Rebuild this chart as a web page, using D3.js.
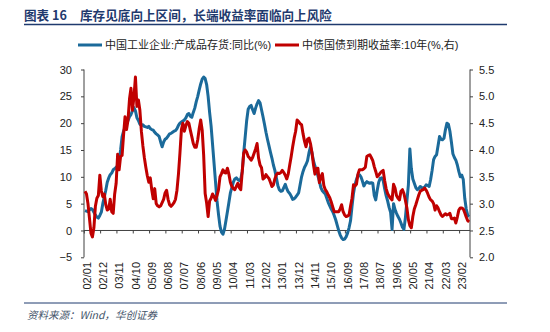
<!DOCTYPE html>
<html lang="zh">
<head>
<meta charset="utf-8">
<title>库存见底向上区间</title>
<script src="https://d3js.org/d3.v7.min.js"></script>
<style>
  body { margin: 0; background: #fff; }
  svg { display: block; }
</style>
</head>
<body>
<script>
// 中国工业企业:产成品存货:同比(%) , monthly from 2002-01
const inventoryYoY = [
  3.7, 3.6, 3.5, 3.8, 4.1, 3.9, 3.4, 2.9, 2.5, 2.3, 2.8, 3.4,
  5.0, 6.2, 7.5, 9.0, 9.8, 10.4, 10.7, 11.3, 11.5, 11.8, 12.0, 13.0,
  15.0, 17.5, 18.5, 19.3, 20.0, 20.5, 21.2, 21.6, 22.3, 22.9, 22.3, 21.0,
  20.5, 19.8, 19.6, 19.7, 19.4, 19.3, 19.2, 19.4, 19.0, 18.8, 18.7, 18.3,
  18.0, 17.8, 17.5, 16.5, 15.6, 16.5, 17.0, 17.2, 17.6, 18.0, 18.1, 18.3,
  18.5, 18.6, 19.0, 19.6, 20.0, 20.2, 20.4, 20.6, 21.0, 21.6, 21.8, 21.3,
  21.1, 22.0, 22.8, 24.0, 25.0, 26.2, 27.3, 28.2, 28.6, 28.3, 27.2, 25.0,
  22.0, 19.5, 16.0, 12.5, 9.0, 5.5, 3.0, 0.8, -0.3, -0.7, 0.2, 1.8,
  3.5, 5.2, 7.0, 8.0, 9.0, 9.6, 9.8, 9.5, 9.3, 9.6, 11.0, 14.5,
  17.5, 20.5, 22.6, 23.1, 23.3, 22.5, 21.8, 22.8, 23.6, 24.2, 23.8, 22.5,
  21.2, 19.8, 18.3, 17.0, 15.8, 14.6, 13.5, 12.2, 11.2, 9.8, 8.4, 7.6,
  7.3, 7.4, 8.0, 8.6, 7.8, 7.2, 6.9, 6.4, 5.8, 5.9, 6.2, 6.6,
  7.0, 8.5, 10.0, 11.0, 11.8, 12.3, 13.0, 14.5, 15.6, 14.5, 13.0, 12.0,
  11.2, 10.2, 9.2, 8.0, 7.4, 7.1, 6.8, 6.0, 5.2, 4.6, 4.0, 3.5,
  2.8, 2.0, 1.0, 0.0, -0.8, -1.4, -1.7, -1.6, -1.2, -0.5, 0.5, 1.8,
  4.5, 6.9, 8.5, 9.5, 10.3, 10.4, 10.0, 9.2, 8.3, 8.8, 9.1, 8.9,
  8.8, 8.9, 8.8, 6.5, 5.7, 7.5, 9.0, 9.7, 9.8, 9.3, 7.8, 6.5,
  5.5, 4.3, 3.4, 0.2, 5.0, 3.9, 3.2, 2.6, 2.1, 1.4, 0.6, 0.2,
  2.4, 5.5, 8.5, 15.2, 11.5, 9.6, 8.8, 8.0, 7.6, 7.8, 8.2, 8.0,
  7.9, 8.1, 8.5, 8.4, 8.2, 9.5, 11.2, 13.2, 13.8, 14.1, 15.8, 17.5,
  17.0, 16.9, 17.2, 18.8, 20.0, 19.8, 18.5, 16.5, 14.3, 13.6, 13.1, 12.2,
  11.0, 10.0, 10.3, 9.5, 6.0, 4.0, 2.8, 2.6
];

// 中债国债到期收益率:10年(%) , monthly from 2002-01
const bond10y = [
  3.23, 3.18, 3.00, 2.73, 2.45, 2.38, 2.55, 2.95, 3.10, 3.15, 3.53, 3.24,
  3.13, 3.18, 2.98, 2.88, 2.90, 3.08, 2.85, 2.82, 3.18, 3.38, 3.92, 3.63,
  3.88, 3.90, 4.28, 4.62, 4.38, 4.56, 4.95, 5.15, 4.74, 4.99, 5.36, 4.81,
  4.93, 4.74, 4.35, 4.08, 3.86, 3.68, 3.52, 3.40, 3.48, 3.26, 3.09, 3.28,
  3.00, 2.96, 2.94, 2.96, 3.02, 3.08, 3.20, 3.25, 3.08, 2.98, 2.95, 2.98,
  3.02, 3.08, 3.25, 3.55, 3.94, 4.38, 4.50, 4.35, 4.45, 4.53, 4.50, 4.37,
  4.25, 4.12, 4.05, 4.05, 4.19, 4.40, 4.56, 4.37, 3.90, 3.19, 3.01, 2.76,
  3.05, 3.10, 3.18, 3.13, 3.06, 3.15, 3.26, 3.50, 3.56, 3.63, 3.58, 3.57,
  3.66, 3.55, 3.40, 3.32, 3.28, 3.26, 3.32, 3.38, 3.30, 3.26, 3.60, 3.94,
  4.00, 3.96, 3.88, 3.85, 3.81, 3.86, 3.94, 4.02, 4.12, 3.85, 3.72, 3.67,
  3.46, 3.48, 3.54, 3.50, 3.47, 3.40, 3.32, 3.35, 3.46, 3.54, 3.57, 3.56,
  3.58, 3.62, 3.58, 3.53, 3.46, 3.55, 3.72, 3.88, 4.06, 4.22, 4.35, 4.56,
  4.53, 4.49, 4.47, 4.30, 4.16, 4.06, 4.20, 4.22, 4.12, 3.95, 3.73, 3.55,
  3.65, 3.66, 3.39, 3.50, 3.56, 3.34, 3.26, 3.22, 3.16, 3.11, 3.03, 2.94,
  2.85, 2.85, 2.85, 2.85, 2.90, 2.98, 2.85, 2.79, 2.76, 2.77, 2.79, 2.95,
  3.10, 3.35, 3.33, 3.36, 3.55, 3.63, 3.63, 3.63, 3.65, 3.68, 3.88, 3.90,
  3.91, 3.86, 3.80, 3.69, 3.60, 3.50, 3.53, 3.57, 3.60, 3.62, 3.43, 3.28,
  3.19, 3.14, 3.10, 3.07, 3.36, 3.29, 3.15, 3.10, 3.07, 3.23, 3.26, 3.19,
  3.06, 2.92, 2.70, 2.59, 2.55, 2.76, 2.90, 2.98, 3.07, 3.16, 3.23, 3.25,
  3.26, 3.29, 3.25, 3.19, 3.12, 3.07, 3.05, 3.00, 2.88, 2.96, 2.92, 2.85,
  2.79, 2.76, 2.79, 2.81, 2.79, 2.80, 2.82, 2.72, 2.72, 2.73, 2.64, 2.75,
  2.88, 2.92, 2.92, 2.90, 2.83, 2.75, 2.68, 2.66
];

// x tick labels, one every 11 months starting at index 0
const xTickLabels = ["02/01","02/12","03/11","04/10","05/09","06/08","07/07","08/06",
  "09/05","10/04","11/03","12/02","13/01","13/12","14/11","15/10","16/09","17/08",
  "18/07","19/06","20/05","21/04","22/03","23/02"];
const leftTicks = [-5, 0, 5, 10, 15, 20, 25, 30];
const rightTicks = [2.0, 2.5, 3.0, 3.5, 4.0, 4.5, 5.0, 5.5];
const seriesNames = ["中国工业企业:产成品存货:同比(%)", "中债国债到期收益率:10年(%,右)"];

const W = 550, H = 332;
const blue = "#1b6a9a", red = "#c00000", navy = "#1f3a6e";
const axisColor = "#404040";
const latinFont = "'Liberation Sans', Arial, 'Noto Sans CJK SC', sans-serif";

const svg = d3.select("body").append("svg")
  .attr("width", W).attr("height", H);

// scales
const x = d3.scaleLinear().domain([0, inventoryYoY.length - 1]).range([85, 469.2]);
const yL = d3.scaleLinear().domain([-5, 30]).range([257.3, 69.5]);
const yR = d3.scaleLinear().domain([2.0, 5.5]).range([257.3, 69.5]);

// title + rules
svg.append("text").attr("x", 24).attr("y", 20)
  .style("font-family", "'Noto Sans CJK SC', sans-serif").style("font-weight", "bold")
  .style("font-size", "12.6px").style("fill", navy).text("图表 16");
svg.append("text").attr("x", 80).attr("y", 20)
  .style("font-family", "'Noto Sans CJK SC', sans-serif").style("font-weight", "bold")
  .style("font-size", "12.6px").style("fill", navy).text("库存见底向上区间，长端收益率面临向上风险");
svg.append("line").attr("x1", 24).attr("x2", 507).attr("y1", 24.5).attr("y2", 24.5)
  .style("stroke", navy).style("stroke-width", 1.5);
svg.append("line").attr("x1", 24).attr("x2", 507).attr("y1", 303).attr("y2", 303)
  .style("stroke", navy).style("stroke-width", 1);
svg.append("text").attr("x", 27).attr("y", 319)
  .style("font-family", "'Noto Sans CJK SC', sans-serif").style("font-style", "italic")
  .style("font-size", "10.5px").style("fill", "#44546a").text("资料来源：Wind，华创证券");

// legend
const legend = [[78, 105, blue], [275, 302, red]];
legend.forEach(function (d, k) {
  svg.append("line").attr("x1", d[0]).attr("x2", d[0] + 24).attr("y1", 45).attr("y2", 45)
    .style("stroke", d[2]).style("stroke-width", 3);
  svg.append("text").attr("x", d[1]).attr("y", 49)
    .style("font-family", latinFont).style("font-size", "11px").style("fill", "#222")
    .text(seriesNames[k]);
});

// left axis
const gL = svg.append("g").attr("transform", "translate(84,0)")
  .call(d3.axisLeft(yL).tickValues(leftTicks).tickSize(3).tickPadding(9));
// right axis
const gR = svg.append("g").attr("transform", "translate(470,0)")
  .call(d3.axisRight(yR).tickValues(rightTicks).tickSize(3).tickPadding(6).tickFormat(d3.format(".1f")));
[gL, gR].forEach(function (g) {
  g.select(".domain").attr("d", g === gL ? "M0," + yL(-5) + "V" + yL(30) : "M0," + yR(2) + "V" + yR(5.5))
    .style("stroke", axisColor);
  g.selectAll(".tick line").style("stroke", axisColor);
  g.selectAll("text").style("font-family", latinFont).style("font-size", "11px").style("fill", "#222");
});

// x axis at value 0
const y0 = yL(0);
svg.append("line").attr("x1", 84).attr("x2", 470).attr("y1", y0).attr("y2", y0)
  .style("stroke", axisColor);
const xt = svg.append("g");
xTickLabels.forEach(function (lab, k) {
  const px = x(k * 11) - 0.7;
  xt.append("line").attr("x1", px).attr("x2", px).attr("y1", y0).attr("y2", y0 + 3)
    .style("stroke", axisColor);
  xt.append("text")
    .attr("transform", "translate(" + (px + 2.4) + ",262) rotate(-90)")
    .attr("text-anchor", "end").attr("dy", "0.35em")
    .style("font-family", latinFont).style("font-size", "11px").style("fill", "#222")
    .text(lab);
});

// lines
const lineL = d3.line().x(function (d, i) { return x(i); }).y(function (d) { return yL(d); });
const lineR = d3.line().x(function (d, i) { return x(i); }).y(function (d) { return yR(d); });
svg.append("path").datum(inventoryYoY).attr("d", lineL)
  .style("fill", "none").style("stroke", blue).style("stroke-width", 3).style("stroke-linejoin", "round");
svg.append("path").datum(bond10y).attr("d", lineR)
  .style("fill", "none").style("stroke", red).style("stroke-width", 3).style("stroke-linejoin", "round");
</script>
</body>
</html>
